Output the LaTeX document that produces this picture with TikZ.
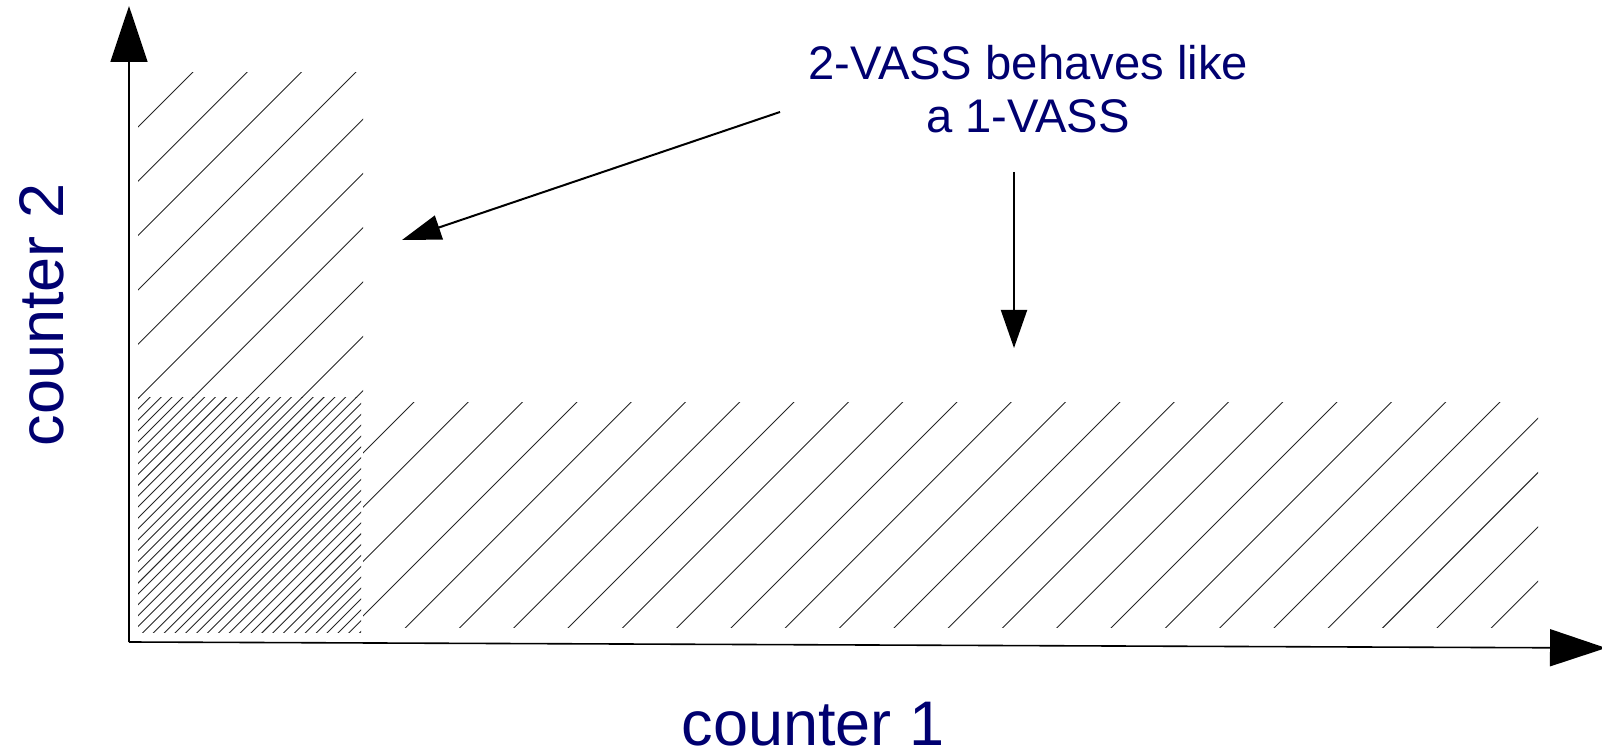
\documentclass[tikz,border=0pt]{standalone}
\usepackage{fontspec}
\setmainfont{Liberation Sans}
\usetikzlibrary{arrows.meta}
\definecolor{labelblue}{RGB}{0,0,112}
\begin{document}
\begin{tikzpicture}[x=0.5pt,y=-0.5pt,
  axis/.style={line width=0.8pt,-{Triangle[length=28pt,width=18.5pt]}},
  pointer/.style={line width=1pt,-{Triangle[length=19.5pt,width=12.5pt]}},
  hatchline/.style={line width=0.45pt,black!85},
  axislabel/.style={font=\fontsize{31.5}{36}\selectfont,text=labelblue,inner sep=0pt},
  notelabel/.style={font=\fontsize{23.6}{26.5}\selectfont,text=labelblue,inner sep=0pt,align=center}]
\useasboundingbox (0,0) rectangle (1602,753);

% hatched regions: vertical strip, horizontal strip, dense corner square
\begin{scope}
  \clip (138,73) rectangle (363,398);
  \foreach \k in {0,...,14} {
    \pgfmathsetmacro\c{265+54.3*\k}
    \draw[hatchline] (\c-800,800) -- (\c,0);
  }
\end{scope}
\begin{scope}
  \clip (363,403) rectangle (1538,627);
  \foreach \k in {0,...,36} {
    \pgfmathsetmacro\c{273+54.3*\k}
    \draw[hatchline] (\c-800,800) -- (\c,0);
  }
\end{scope}
\begin{scope}
  \clip (138,398) rectangle (361,632);
  \foreach \k in {0,...,68} {
    \pgfmathsetmacro\c{265+10.86*\k}
    \draw[hatchline] (\c-800,800) -- (\c,0);
  }
\end{scope}

% axes
\coordinate (origin) at (129,642);
\coordinate (ytip) at (129,6);
\coordinate (xtip) at (1606,648);
\draw[axis] (origin) -- (ytip);
\draw[axis] (origin) -- (xtip);

% axis labels
\node[axislabel,anchor=base] (xlabel) at (813,745) {counter 1};
\node[axislabel,anchor=base,rotate=90] (ylabel) at (63,315) {counter 2};

% note with its two arrows
\node[notelabel,anchor=north] (note) at (1028,44.5) {2-VASS behaves like\\a 1-VASS};
\coordinate (diagstart) at (780,112);
\coordinate (diagtip) at (402,240);
\coordinate (downstart) at (1014,172);
\coordinate (downtip) at (1014,348);
\draw[pointer] (diagstart) -- (diagtip);
\draw[pointer,-{Triangle[length=19pt,width=13pt]}] (downstart) -- (downtip);
\end{tikzpicture}
\end{document}
